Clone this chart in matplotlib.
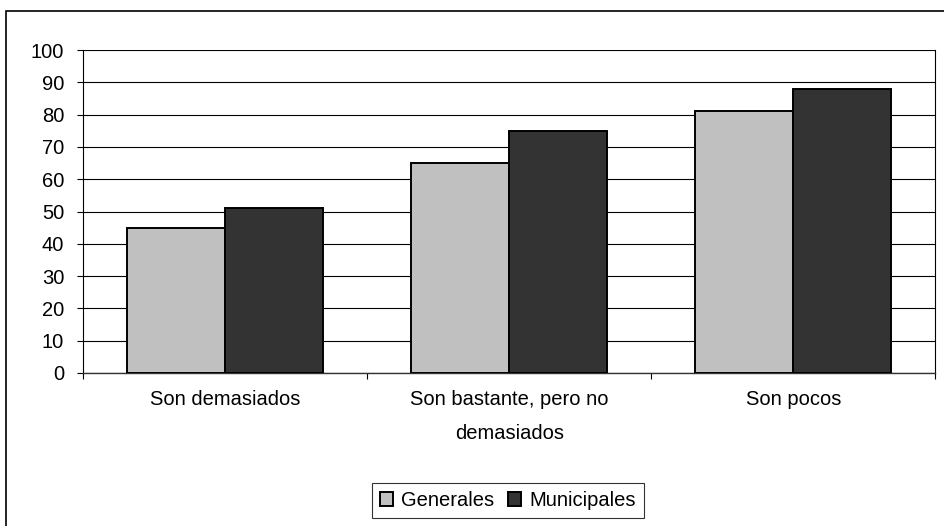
import matplotlib
matplotlib.use("Agg")
import matplotlib.pyplot as plt
import numpy as np
from matplotlib.patches import Rectangle

plt.rcParams['font.family'] = ['Liberation Sans', 'DejaVu Sans']

categories = ["Son demasiados", "Son bastante, pero no\ndemasiados", "Son pocos"]
generales = [45, 65, 81]
municipales = [51, 75, 88]
series_names = ["Generales", "Municipales"]
y_ticks = [0, 10, 20, 30, 40, 50, 60, 70, 80, 90, 100]

FS = 14.5

fig = plt.figure(figsize=(9.45, 5.26), dpi=100)
ax = fig.add_axes([83 / 945, 1 - 373 / 526, (935.5 - 83) / 945, (373 - 50) / 526])

x = np.arange(len(categories))
w = 0.345
ax.bar(x - w / 2, generales, width=w, color="#C0C0C0", edgecolor="black",
       linewidth=1.4, label=series_names[0], zorder=3)
ax.bar(x + w / 2, municipales, width=w, color="#333333", edgecolor="black",
       linewidth=1.4, label=series_names[1], zorder=3)

ax.set_xlim(-0.5, len(categories) - 0.5)
ax.set_ylim(0, 100)
ax.set_yticks(y_ticks)
ax.tick_params(axis='y', direction='out', length=4, width=0.8, labelsize=FS, pad=9.5)

ax.set_xticks(x)
ax.set_xticklabels(categories, fontsize=FS, linespacing=2.0)
ax.set_xticks(np.arange(-0.5, len(categories)), minor=True)
ax.tick_params(axis='x', which='major', length=0, pad=12.5)
ax.tick_params(axis='x', which='minor', direction='out', length=4, width=0.8)

ax.yaxis.grid(True, color="black", linewidth=0.8, zorder=0)
ax.set_axisbelow(True)
ax.spines["top"].set_visible(False)
ax.spines["left"].set_linewidth(0.8)
ax.spines["right"].set_linewidth(0.8)
ax.spines["bottom"].set_linewidth(1.0)
ax.spines["bottom"].set_color("#333333")

leg = fig.legend(loc="center", bbox_to_anchor=(508 / 945, 1 - 500.5 / 526), ncol=2,
                 fontsize=FS, frameon=True, fancybox=False, edgecolor="black",
                 handlelength=0.65, handleheight=0.65, handletextpad=0.4,
                 columnspacing=0.7, borderpad=0.4, borderaxespad=0)
leg.get_frame().set_linewidth(0.8)

# outer chart frame, running past the right and bottom edges
fig.patches.append(Rectangle((6 / 945, -0.2), 2.0, 1.2 - 11 / 526,
                             transform=fig.transFigure, fill=False,
                             edgecolor="black", linewidth=1.2))

fig.savefig("out.png", dpi=100)
